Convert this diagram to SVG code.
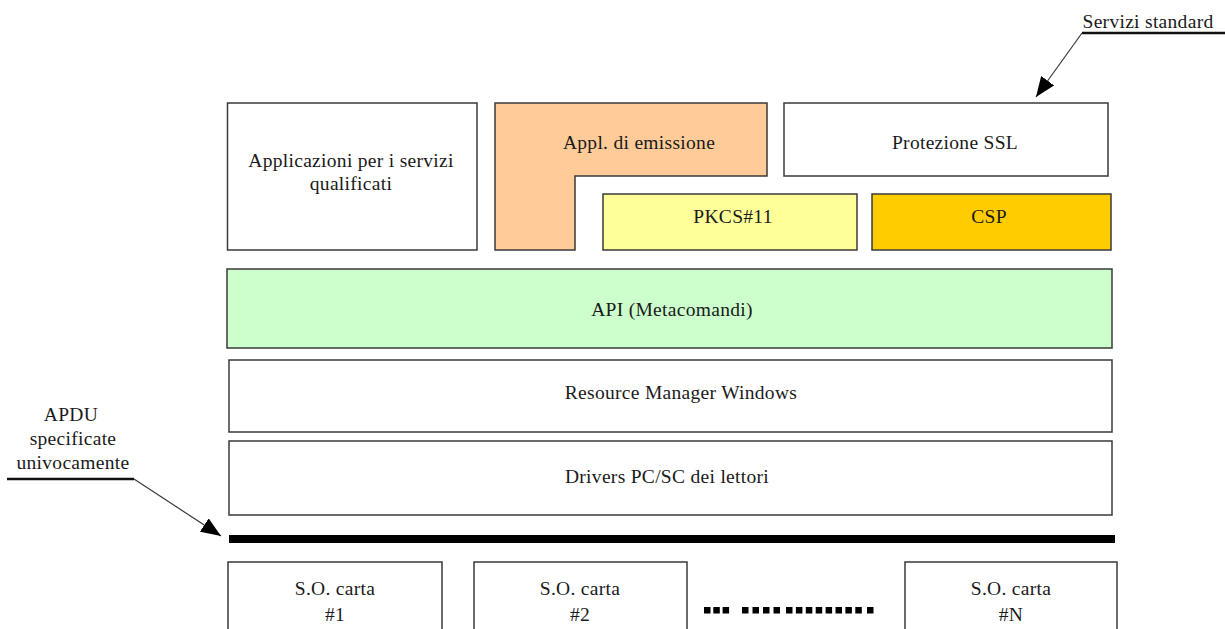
<svg xmlns="http://www.w3.org/2000/svg" width="1225" height="629" viewBox="0 0 1225 629">
  <style>
    .box { stroke: #3a3a3a; stroke-width: 1.5; }
    .plain { fill: #ffffff; }
    .lbl { font-family: "Liberation Serif", "Times New Roman", serif; font-size: 19.5px; letter-spacing: 0.3px; fill: #1a1a1a; text-anchor: middle; }
    .lead { stroke: #3a3a3a; stroke-width: 1.2; fill: none; }
    .rule { stroke: #111; stroke-width: 2.5; }
  </style>
  <defs>
    <marker id="tri" viewBox="0 0 20 16" refX="20" refY="8" markerWidth="20" markerHeight="16" markerUnits="userSpaceOnUse" orient="auto">
      <path d="M0,0 L20,8 L0,16 Z" fill="#000"/>
    </marker>
  </defs>

  <rect width="1225" height="629" fill="#ffffff"/>

  <!-- application layer -->
  <g id="app-qualificati">
    <rect class="box plain" x="227.5" y="103" width="249.5" height="147"/>
    <text class="lbl" x="351" y="167">Applicazioni per i servizi</text>
    <text class="lbl" x="351" y="190">qualificati</text>
  </g>
  <g id="app-emissione">
    <path class="box" d="M495,103 H767 V176 H575 V250 H495 Z" fill="#ffcc99"/>
    <text class="lbl" x="639" y="149">Appl. di emissione</text>
  </g>
  <g id="protezione-ssl">
    <rect class="box plain" x="784" y="103" width="324" height="73"/>
    <text class="lbl" x="955" y="149">Protezione SSL</text>
  </g>
  <g id="pkcs11">
    <rect class="box" x="603" y="194" width="254" height="56" fill="#ffff99"/>
    <text class="lbl" x="733" y="223">PKCS#11</text>
  </g>
  <g id="csp">
    <rect class="box" x="872" y="194" width="239" height="56" fill="#ffcc00"/>
    <text class="lbl" x="989" y="223">CSP</text>
  </g>

  <!-- middleware layers -->
  <g id="api">
    <rect class="box" x="227" y="269" width="885" height="79" fill="#ccffcc"/>
    <text class="lbl" x="672" y="316">API (Metacomandi)</text>
  </g>
  <g id="resource-manager">
    <rect class="box plain" x="229" y="360" width="883" height="72"/>
    <text class="lbl" x="681" y="399">Resource Manager Windows</text>
  </g>
  <g id="drivers">
    <rect class="box plain" x="229" y="441" width="883" height="74"/>
    <text class="lbl" x="667" y="483">Drivers PC/SC dei lettori</text>
  </g>

  <!-- APDU bus -->
  <g id="apdu-bus">
    <rect x="229" y="535" width="886" height="8" fill="#000"/>
  </g>

  <!-- card operating systems -->
  <g id="card-1">
    <rect class="box plain" x="228" y="562" width="214" height="80"/>
    <text class="lbl" x="335" y="595">S.O. carta</text>
    <text class="lbl" x="335" y="621">#1</text>
  </g>
  <g id="card-2">
    <rect class="box plain" x="474" y="562" width="213" height="80"/>
    <text class="lbl" x="580" y="595">S.O. carta</text>
    <text class="lbl" x="580" y="621">#2</text>
  </g>
  <g id="card-ellipsis" fill="#000">
    <rect x="704" y="607" width="6.5" height="6.5"/>
    <rect x="713.3" y="607" width="6.5" height="6.5"/>
    <rect x="722.6" y="607" width="6.5" height="6.5"/>
    <rect x="742" y="607" width="6.5" height="6.5"/>
    <rect x="752.5" y="607" width="6.5" height="6.5"/>
    <rect x="763" y="607" width="6.5" height="6.5"/>
    <rect x="773.5" y="607" width="6.5" height="6.5"/>
    <rect x="786" y="607" width="6.5" height="6.5"/>
    <rect x="795.9" y="607" width="6.5" height="6.5"/>
    <rect x="805.8" y="607" width="6.5" height="6.5"/>
    <rect x="815.7" y="607" width="6.5" height="6.5"/>
    <rect x="825.6" y="607" width="6.5" height="6.5"/>
    <rect x="835.5" y="607" width="6.5" height="6.5"/>
    <rect x="845.4" y="607" width="6.5" height="6.5"/>
    <rect x="855.3" y="607" width="6.5" height="6.5"/>
    <rect x="867" y="607" width="6.5" height="6.5"/>
  </g>
  <g id="card-n">
    <rect class="box plain" x="905" y="562" width="212" height="80"/>
    <text class="lbl" x="1011" y="595">S.O. carta</text>
    <text class="lbl" x="1011" y="621">#N</text>
  </g>

  <!-- callout labels -->
  <g id="note-servizi">
    <text class="lbl" x="1148" y="28">Servizi standard</text>
  </g>
  <g id="note-apdu">
    <text class="lbl" x="71" y="421">APDU</text>
    <text class="lbl" x="73" y="445">specificate</text>
    <text class="lbl" x="73" y="469">univocamente</text>
  </g>

  <!-- leader lines -->
  <g id="connectors">
    <line class="rule" x1="1082" y1="33" x2="1225" y2="33"/>
    <line class="lead" x1="1082" y1="33" x2="1036" y2="97" marker-end="url(#tri)"/>
    <line class="rule" x1="7" y1="479" x2="134" y2="479"/>
    <line class="lead" x1="134" y1="479" x2="221" y2="536" marker-end="url(#tri)"/>
  </g>
</svg>
